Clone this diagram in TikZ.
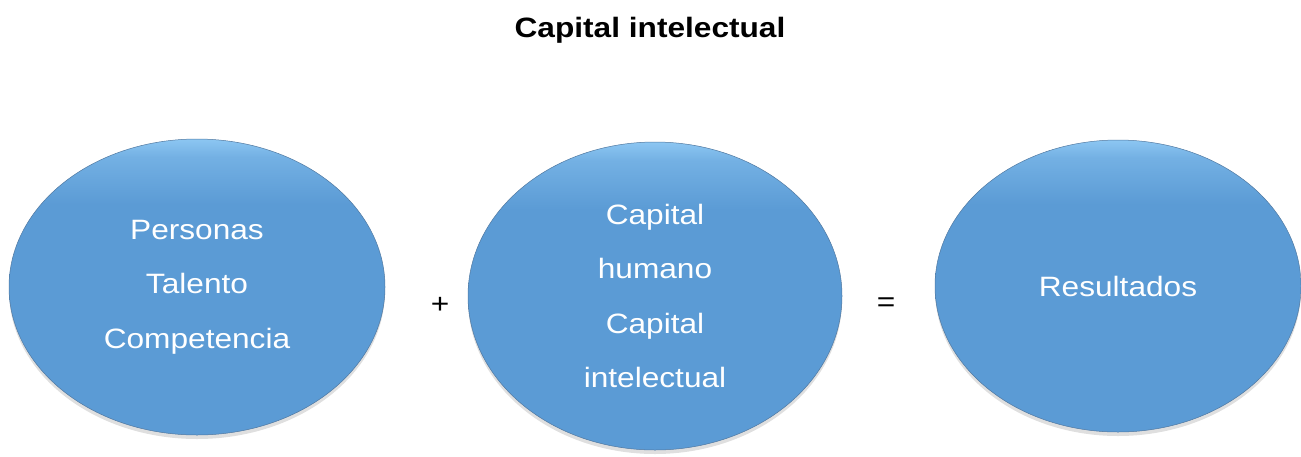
\documentclass[tikz,border=0pt]{standalone}
\usepackage{fontspec}
\setmainfont{Liberation Sans}[FakeStretch=1.13]
\usetikzlibrary{shapes.geometric,shadows}
\definecolor{bolablue}{RGB}{91,155,213}
\definecolor{bolalight}{RGB}{140,198,242}
\definecolor{bolarim}{RGB}{80,120,160}
% sombreado: azul plano con brillo arriba
\pgfdeclareverticalshading{bolashade}{100bp}{color(0bp)=(bolablue); color(25bp)=(bolablue);
  color(64bp)=(bolablue); color(72bp)=(bolablue!50!bolalight); color(75bp)=(bolalight); color(100bp)=(bolalight)}
\tikzset{
  bola/.style={ellipse, inner sep=0pt, draw=bolarim, line width=0.5pt,
    shading=bolashade, text=white, align=center, font=\fontsize{28}{54.5}\selectfont,
    drop shadow={shadow xshift=0pt, shadow yshift=-4pt, opacity=0.25}},
  signo/.style={font=\fontsize{28}{30}\selectfont}
}
\begin{document}
\begin{tikzpicture}[x=1pt,y=-1pt]
    \useasboundingbox (0,0) rectangle (1301,456);
    \node[signo] (titulo) at (650,30) {\bfseries Capital intelectual};
    \node[bola, minimum width=376, minimum height=296] (personas) at (197,287) {Personas\\Talento\\Competencia};
    \node[bola, minimum width=374, minimum height=308] (capital) at (655,296) {Capital\\humano\\Capital\\intelectual};
    \node[bola, minimum width=366, minimum height=292] (resultados) at (1118,286) {Resultados};
    \node[signo] (mas) at (440,305) {+};
    \node[signo] (igual) at (886,305) {=};
\end{tikzpicture}
\end{document}
